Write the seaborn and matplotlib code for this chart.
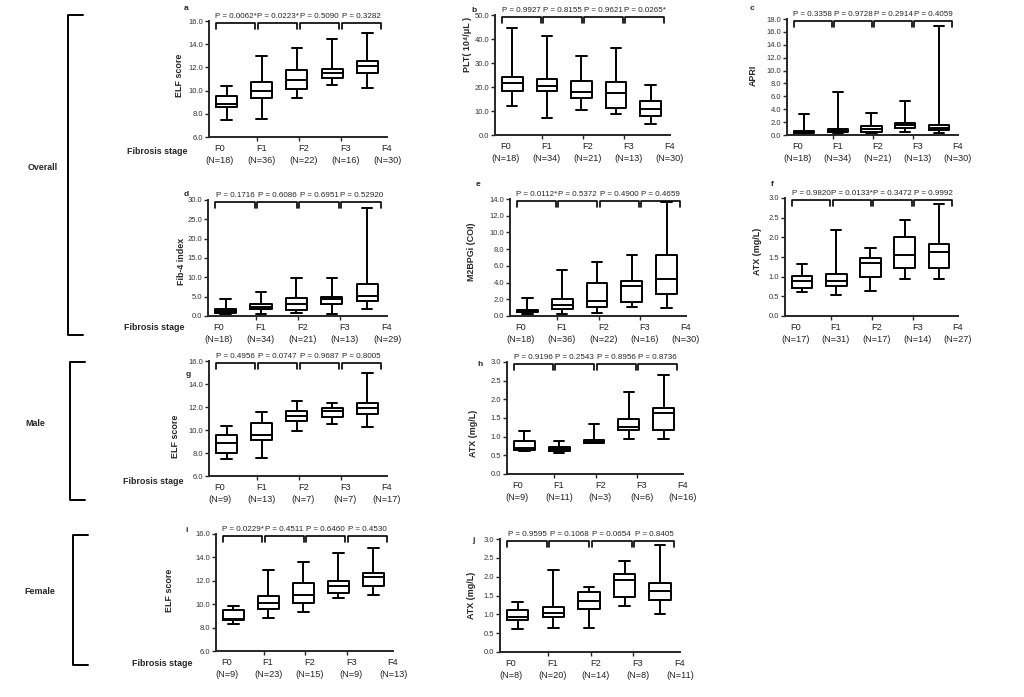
import pandas as pd
import matplotlib.pyplot as plt
import seaborn as sns
import numpy as np
from matplotlib.lines import Line2D

# Data: five-number summary per stage (min, q1, median, q3, max)
stages = ['F0', 'F1', 'F2', 'F3', 'F4']

elf_all = [[7.5, 8.55, 8.85, 9.55, 10.4], [7.55, 9.35, 10.0, 10.7, 12.95],
           [9.4, 10.1, 10.95, 11.75, 13.7], [10.5, 11.1, 11.55, 11.9, 14.45],
           [10.2, 11.5, 12.1, 12.55, 15.0]]
plt_all = [[12.1, 18.5, 21.5, 24.0, 44.5], [7.2, 18.5, 20.6, 23.2, 41.3],
           [10.6, 15.5, 18.0, 22.6, 33.0], [8.6, 11.1, 17.6, 22.2, 36.2],
           [4.6, 7.9, 10.8, 14.2, 20.8]]
apri_all = [[0.1, 0.25, 0.4, 0.6, 3.3], [0.15, 0.45, 0.65, 0.9, 6.7],
            [0.25, 0.5, 0.9, 1.45, 3.35], [0.4, 1.15, 1.5, 1.9, 5.3],
            [0.25, 0.8, 1.15, 1.55, 16.9]]
fib4_all = [[0.45, 0.85, 1.3, 1.9, 4.4], [0.45, 1.9, 2.4, 3.0, 6.1],
            [0.85, 1.55, 3.0, 4.6, 9.9], [0.45, 3.0, 4.3, 4.8, 9.9],
            [1.8, 3.9, 5.25, 8.2, 28.0]]
m2bp_all = [[0.2, 0.45, 0.6, 0.72, 2.2], [0.25, 0.8, 1.3, 2.0, 5.5],
            [0.4, 1.1, 1.85, 3.9, 6.45], [1.05, 1.65, 3.6, 4.15, 7.3],
            [0.9, 2.6, 4.4, 7.3, 13.7]]
atx_all = [[0.62, 0.70, 0.90, 1.02, 1.31], [0.53, 0.76, 0.90, 1.08, 2.19],
           [0.63, 1.0, 1.34, 1.48, 1.72], [0.94, 1.23, 1.55, 2.0, 2.43],
           [0.94, 1.23, 1.63, 1.83, 2.86]]
elf_male = [[7.47, 8.02, 8.83, 9.55, 10.36], [7.53, 9.12, 9.55, 10.62, 11.58],
            [9.9, 10.77, 11.23, 11.66, 12.5], [10.5, 11.09, 11.66, 11.95, 12.39],
            [10.22, 11.35, 11.95, 12.36, 14.96]]
atx_male = [[0.62, 0.65, 0.69, 0.89, 1.16], [0.55, 0.61, 0.67, 0.73, 0.89],
            [0.82, 0.84, 0.87, 0.91, 1.33], [0.95, 1.18, 1.25, 1.46, 2.2],
            [0.95, 1.18, 1.64, 1.78, 2.66]]
elf_female = [[8.31, 8.65, 8.74, 9.5, 9.87], [8.85, 9.56, 10.07, 10.73, 12.92],
              [9.36, 10.07, 10.79, 11.84, 13.64], [10.5, 10.93, 11.58, 11.98, 14.4],
              [10.79, 11.58, 12.35, 12.7, 14.77]]
atx_female = [[0.62, 0.86, 0.94, 1.12, 1.32], [0.64, 0.92, 1.03, 1.19, 2.18],
              [0.65, 1.15, 1.36, 1.58, 1.72], [1.21, 1.46, 1.92, 2.07, 2.42],
              [1.01, 1.39, 1.63, 1.83, 2.84]]

n_a = [18, 36, 22, 16, 30]
n_b = [18, 34, 21, 13, 30]
n_c = [18, 34, 21, 13, 30]
n_d = [18, 34, 21, 13, 29]
n_e = [18, 36, 22, 16, 30]
n_f = [17, 31, 17, 14, 27]
n_g = [9, 13, 7, 7, 17]
n_h = [9, 11, 3, 6, 16]
n_i = [9, 23, 15, 9, 13]
n_j = [8, 20, 14, 8, 11]

p_a = ['0.0062*', '0.0223*', '0.5090', '0.3282']
p_b = ['0.9927', '0.8155', '0.9621', '0.0265*']
p_c = ['0.3358', '0.9728', '0.2914', '0.4059']
p_d = ['0.1716', '0.6086', '0.6951', '0.52920']
p_e = ['0.0112*', '0.5372', '0.4900', '0.4659']
p_f = ['0.9820', '0.0133*', '0.3472', '0.9992']
p_g = ['0.4956', '0.0747', '0.9687', '0.8005']
p_h = ['0.9196', '0.2543', '0.8956', '0.8736']
p_i = ['0.0229*', '0.4511', '0.6460', '0.4530']
p_j = ['0.9595', '0.1068', '0.0654', '0.8405']

# panel: letter, values, N, P, ylabel, ymin, ymax, ystep, rect px (x0, top, x1, bottom), letter px, ylabel px
panels = [
    ('a', elf_all, n_a, p_a, 'ELF score', 6, 16, 2, (209, 21, 387, 137), (186, 9), (180, 75)),
    ('b', plt_all, n_b, p_b, 'PLT( 10\u2074/\u03bcL )', 0, 50, 10, (495, 15, 670, 135), (474, 10), (467, 44)),
    ('c', apri_all, n_c, p_c, 'APRI', 0, 18, 2, (787, 19, 958, 135), (752, 8), (753, 75)),
    ('d', fib4_all, n_d, p_d, 'Fib-4 index', 0, 30, 5, (208, 200, 387, 316), (186, 194), (181, 261)),
    ('e', m2bp_all, n_e, p_e, 'M2BPGi (COI)', 0, 14, 2, (510, 199, 686, 316), (478, 185), (472, 252)),
    ('f', atx_all, n_f, p_f, 'ATX (mg/L)', 0, 3, 0.5, (785, 198, 958, 316), (772, 185), (758, 251)),
    ('g', elf_male, n_g, p_g, 'ELF score', 6, 16, 2, (209, 361, 387, 476), (188, 375), (175, 436)),
    ('h', atx_male, n_h, p_h, 'ATX (mg/L)', 0, 3, 0.5, (507, 362, 683, 474), (480, 365), (473, 433)),
    ('i', elf_female, n_i, p_i, 'ELF score', 6, 16, 2, (216, 534, 393, 651), (187, 531), (169, 590)),
    ('j', atx_female, n_j, p_j, 'ATX (mg/L)', 0, 3, 0.5, (500, 539, 680, 652), (473, 540), (471, 595)),
]

W, H = 1024, 697
sns.set_style('ticks')
plt.rcParams['font.family'] = ['Liberation Sans', 'DejaVu Sans']
fig = plt.figure(figsize=(W / 100, H / 100), dpi=100)


def ftext(x, y, s, **kw):
    fig.text(x / W, 1 - y / H, s, ha='center', va='center', **kw)


lab_pos = [-0.2 + 1.19 * k for k in range(5)]
junctions = [0.86 + 1.19 * k for k in range(3)]
br_start = [-0.3 + 1.19 * k for k in range(4)]
br_w = 1.12

for letter, vals, ns, ps, ylab, ymin, ymax, ystep, rect, lpos, ypos in panels:
    x0, y0, x1, y1 = rect
    ax = fig.add_axes([x0 / W, 1 - y1 / H, (x1 - x0) / W, (y1 - y0) / H])
    df = pd.DataFrame({'stage': np.repeat(stages, 5), 'value': np.concatenate(vals)})
    sns.boxplot(data=df, x='stage', y='value', order=stages, whis=(0, 100),
                width=0.6, fill=False, color='black', linewidth=1.4, ax=ax)
    ax.set_xlim(-0.5, 4.55)
    ax.set_ylim(ymin, ymax)
    ax.set_yticks(np.arange(ymin, ymax + ystep / 2, ystep))
    ax.yaxis.set_major_formatter('{x:.1f}')
    ax.set_xticks(lab_pos, [f'{s}\n(N={n})' for s, n in zip(stages, ns)])
    ax.set_xticks(junctions, minor=True)
    ax.tick_params(axis='x', which='major', length=0, pad=5, labelsize=6.6, labelcolor='#222')
    ax.tick_params(axis='x', which='minor', length=3, width=1)
    ax.tick_params(axis='y', length=3, width=1, pad=1, labelsize=5.5, labelcolor='#333')
    for lbl in ax.get_xticklabels():
        lbl.set_linespacing(1.5)
    sns.despine(ax=ax)
    for sp in ['left', 'bottom']:
        ax.spines[sp].set_linewidth(1.4)
    ax.set_xlabel('')
    ax.set_ylabel('')

    # P-value brackets between neighbouring stages
    tr = ax.get_xaxis_transform()
    for k, p in enumerate(ps):
        bx0 = br_start[k]
        bx1 = bx0 + br_w
        ax.plot([bx0, bx0, bx1, bx1], [0.93, 0.98, 0.98, 0.93], transform=tr,
                color='black', lw=1.2, clip_on=False)
        ax.text((bx0 + bx1) / 2, 1.04, f'P = {p}', transform=tr, ha='center',
                va='center', fontsize=5.8)

    ftext(lpos[0], lpos[1], letter, fontsize=6, fontweight='bold')
    ftext(ypos[0], ypos[1], ylab, fontsize=6.4, fontweight='bold', rotation=90)

# Fibrosis stage row labels
for x, y in [(157, 152), (154, 328), (153, 482), (162, 663)]:
    ftext(x, y, 'Fibrosis stage', fontsize=6.4, fontweight='bold')

# Group labels and brackets
ftext(43, 168, 'Overall', fontsize=6.4, fontweight='bold')
ftext(35, 423, 'Male', fontsize=6.4, fontweight='bold')
ftext(40, 592, 'Female', fontsize=6.4, fontweight='bold')
for bx, top, bot in [(68, 15, 335), (70, 362, 500), (73, 535, 665)]:
    fig.add_artist(Line2D([(bx + 15) / W, bx / W, bx / W, (bx + 15) / W],
                          [1 - top / H, 1 - top / H, 1 - bot / H, 1 - bot / H],
                          color='black', lw=1.4))

plt.savefig('out.png', dpi=100)
